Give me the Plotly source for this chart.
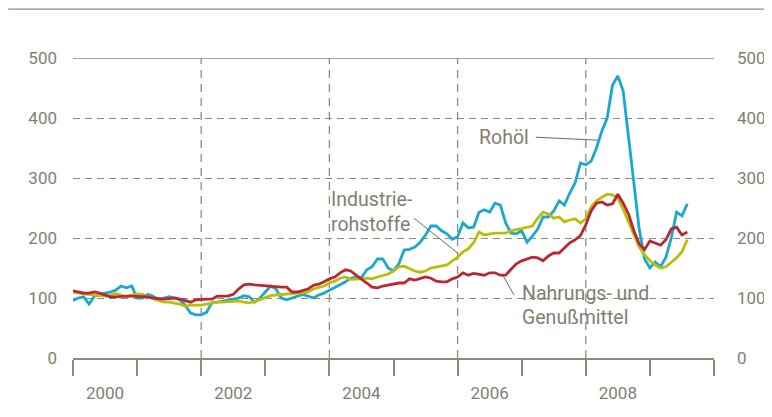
import plotly.graph_objects as go

start_year = 2000
# Monthly index values, Jan 2000 .. Aug 2009 (2000 = 100 approx.)
rohoel = [
    96, 100, 102, 90, 103, 106, 108, 110, 113, 120, 117, 120,
    100, 100, 106, 103, 97, 100, 102, 100, 97, 88, 75, 72,
    72, 76, 92, 93, 95, 97, 99, 100, 104, 102, 93, 100,
    110, 120, 115, 100, 97, 100, 103, 106, 103, 100, 105, 108,
    113, 117, 122, 127, 133, 135, 134, 147, 152, 165, 165, 150,
    145, 157, 180, 181, 185, 193, 205, 220, 220, 212, 207, 198,
    202, 225, 217, 218, 243, 247, 243, 258, 255, 225, 208, 207,
    212, 193, 203, 215, 235, 235, 245, 262, 255, 275, 292, 325,
    322, 328, 350, 378, 400, 455, 470, 445, 370, 290, 215, 165,
    150, 160, 152, 168, 200, 243, 237, 257,
]
industrie = [
    110, 108, 107, 106, 105, 104, 103, 105, 107, 105, 102, 105,
    107, 106, 102, 99, 96, 93, 93, 92, 90, 86, 88, 88,
    88, 90, 92, 93, 93, 94, 95, 95, 93, 92, 94, 97,
    101, 104, 105, 106, 107, 108, 108, 108, 110, 115, 117, 120,
    125, 128, 133, 135, 131, 131, 132, 133, 132, 135, 138, 140,
    145, 152, 153, 149, 145, 143, 145, 150, 152, 154, 155, 162,
    168, 177, 182, 192, 210, 205, 207, 208, 208, 208, 212, 214,
    215, 217, 220, 233, 243, 240, 233, 235, 227, 230, 232, 225,
    232, 252, 262, 268, 273, 272, 266, 248, 228, 205, 185, 172,
    162, 155, 150, 152, 160, 167, 177, 197,
]
nahrung = [
    112, 110, 108, 108, 110, 108, 105, 102, 102, 103, 103, 103,
    103, 103, 102, 100, 99, 98, 99, 100, 98, 96, 93, 97,
    98, 98, 98, 103, 103, 103, 106, 115, 122, 123, 122, 121,
    120, 120, 118, 118, 118, 110, 110, 112, 115, 121, 123, 127,
    132, 135, 142, 147, 145, 138, 132, 125, 118, 117, 120, 122,
    123, 125, 125, 132, 130, 132, 135, 133, 128, 127, 127, 132,
    135, 142, 138, 141, 140, 138, 142, 142, 138, 138, 148, 157,
    162, 165, 168, 167, 162, 170, 175, 175, 183, 192, 197, 204,
    222, 245, 258, 260, 255, 257, 273, 258, 240, 212, 190, 181,
    195, 192, 188, 197, 215, 218, 205, 210,
]
label_years = [2000, 2002, 2004, 2006, 2008]
y_ticks = [0, 100, 200, 300, 400, 500]

x = [start_year + i / 12 for i in range(len(rohoel))]

GRAY = "#837e72"
GRID = "#8f8a7e"
FONT = "Roboto"
C_OIL = "#1ba8d0"
C_IND = "#bcbc0a"
C_FOOD = "#b8282f"

fig = go.Figure()
fig.add_trace(go.Scatter(x=x, y=rohoel, mode="lines", line=dict(color=C_OIL, width=2.8), name="Rohöl"))
fig.add_trace(go.Scatter(x=x, y=industrie, mode="lines", line=dict(color=C_IND, width=2.8), name="Industrierohstoffe"))
fig.add_trace(go.Scatter(x=x, y=nahrung, mode="lines", line=dict(color=C_FOOD, width=2.8), name="Nahrungs- und Genußmittel"))
fig.add_trace(go.Scatter(x=[x[0]], y=[rohoel[0]], yaxis="y2", mode="lines", opacity=0, showlegend=False, hoverinfo="skip"))

shapes = []
for yr in [2002, 2004, 2006, 2008]:
    shapes.append(dict(type="line", xref="x", yref="y", x0=yr, x1=yr, y0=0, y1=500,
                       line=dict(color=GRID, width=1.3, dash="8px,6px"), layer="below"))
shapes.append(dict(type="line", xref="x", yref="y", x0=2000, x1=2010, y0=500, y1=500,
                   line=dict(color=GRID, width=1.3), layer="below"))
shapes.append(dict(type="line", xref="paper", yref="paper", x0=-0.101, x1=1.1, y0=1.163, y1=1.163,
                   line=dict(color=GRID, width=1.3)))
# leader lines
for (xa, ya, xb, yb) in [(2007.22, 368, 2008.19, 363),
                         (2005.32, 233, 2006.0, 175),
                         (2006.71, 137, 2006.88, 105)]:
    shapes.append(dict(type="line", xref="x", yref="y", x0=xa, y0=ya, x1=xb, y1=yb,
                       line=dict(color="#6f6a5f", width=1)))

ann_font = dict(family=FONT, size=19.5, color=GRAY)
annotations = [
    dict(x=2007.145, y=368, text="Rohöl", xanchor="right", yanchor="middle"),
    dict(x=2004.0, y=264, text="Industrie-", xanchor="left", yanchor="middle"),
    dict(x=2004.0, y=222, text="rohstoffe", xanchor="left", yanchor="middle"),
    dict(x=2006.97, y=108, text="Nahrungs- und", xanchor="left", yanchor="middle"),
    dict(x=2006.97, y=68, text="Genußmittel", xanchor="left", yanchor="middle"),
]
for a in annotations:
    a.update(xref="x", yref="y", showarrow=False, font=ann_font)

tick_font = dict(family=FONT, size=17, color=GRAY)
# The page body adds an 8px offset, so the figure is 8px smaller and margins shifted.
fig.update_layout(
    width=764, height=409,
    margin=dict(l=65, r=58, t=50, b=59, autoexpand=False),
    paper_bgcolor="white", plot_bgcolor="white",
    showlegend=False,
    font=dict(family=FONT, size=17, color=GRAY),
    xaxis=dict(range=[2000, 2010], tickvals=[yr + 0.5 for yr in label_years],
               ticktext=[str(yr) for yr in label_years], ticks="", showgrid=False,
               zeroline=False, showline=True, linecolor=GRID, linewidth=1.5,
               automargin=False, ticklabelstandoff=19, tickfont=tick_font,
               minor=dict(tickvals=list(range(2000, 2011)), ticks="outside", ticklen=16,
                          tickcolor=GRID, tickwidth=1.5, showgrid=False)),
    yaxis=dict(range=[0, 500], tickvals=y_ticks, ticks="", showgrid=True, gridcolor=GRID,
               gridwidth=1.3, griddash="7px,5px", zeroline=False, showline=False,
               automargin=False, ticklabelstandoff=15, tickfont=tick_font),
    yaxis2=dict(range=[0, 500], overlaying="y", side="right", tickvals=y_ticks, ticks="",
                showgrid=False, zeroline=False, showline=False, automargin=False,
                ticklabelstandoff=22, tickfont=tick_font),
    shapes=shapes,
    annotations=annotations,
)

fig.write_html("out.html")
